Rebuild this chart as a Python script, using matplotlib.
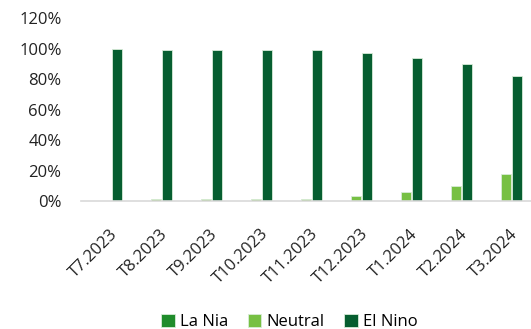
import numpy as np
import matplotlib.pyplot as plt
from matplotlib.ticker import FuncFormatter

plt.rcParams['font.family'] = ['Open Sans', 'DejaVu Sans']

months = ['T7.2023', 'T8.2023', 'T9.2023', 'T10.2023', 'T11.2023',
          'T12.2023', 'T1.2024', 'T2.2024', 'T3.2024']
la_nia = [0, 0, 0, 0, 0, 0, 0, 0, 0]
neutral = [0, 1, 1, 1, 1, 3, 6, 10, 18]
el_nino = [100, 99, 99, 99, 99, 97, 94, 90, 82]

colors = ['#1f8c2b', '#77c043', '#065e30']

fig = plt.figure(figsize=(5.31, 3.29), dpi=100)
ax = fig.add_axes([0.1525, 0.389, 0.8475, 0.556])

x = np.arange(len(months))
w = 0.2
step = 0.22
for off, vals, c, name in [(-step, la_nia, colors[0], 'La Nia'),
                           (0, neutral, colors[1], 'Neutral'),
                           (step, el_nino, colors[2], 'El Nino')]:
    ax.bar(x + off, vals, w, color=c, edgecolor='#d8ecd8', linewidth=0.6, label=name)

ax.set_xlim(-0.5, 8.5)
ax.set_ylim(0, 120)
ax.set_yticks(range(0, 121, 20))
ax.yaxis.set_major_formatter(FuncFormatter(lambda v, p: f'{int(v)}%'))
ax.set_xticks(x + 0.08)
ax.set_xticklabels(months, rotation=45, ha='right', va='top', rotation_mode='anchor')

for s in ['top', 'right', 'left']:
    ax.spines[s].set_visible(False)
ax.spines['bottom'].set_color('#d9d9d9')
ax.spines['bottom'].set_linewidth(1.2)
ax.tick_params(axis='y', length=0, pad=14, labelsize=12, labelcolor='#222222')
ax.tick_params(axis='x', length=0, pad=18, labelsize=12, labelcolor='#222222')

fig.legend(loc='lower center', bbox_to_anchor=(0.545, -0.05), ncol=3, frameon=False,
           fontsize=12, handlelength=0.8, handleheight=0.8, handletextpad=0.3,
           columnspacing=1.2)

fig.savefig('out.png', dpi=100)
